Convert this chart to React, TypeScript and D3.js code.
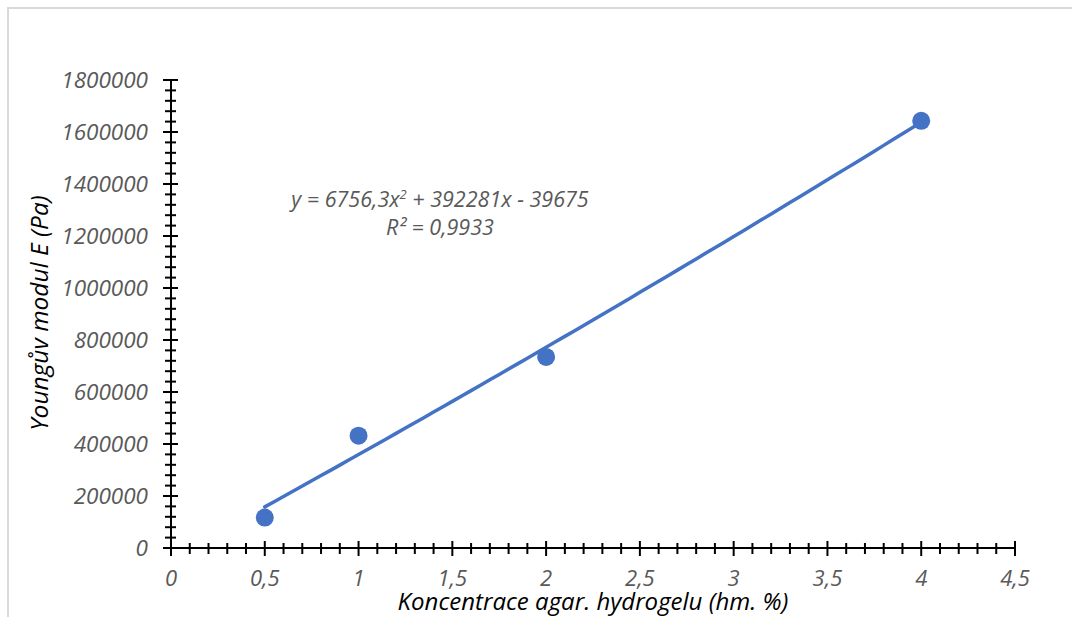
import React from "react";
import * as d3 from "d3";

// Agar hydrogel concentration (wt. %) vs. Young's modulus (Pa)
const concentrations = [0.5, 1, 2, 4];
const modulus = [117000, 432000, 735000, 1643000];

// Quadratic trendline coefficients
const trendA = 6756.3;
const trendB = 392281;
const trendC = -39675;
const equationText = "y = 6756,3x";
const equationRest = " + 392281x - 39675";
const rSquaredText = "R² = 0,9933";

const xTicks = [0, 0.5, 1, 1.5, 2, 2.5, 3, 3.5, 4, 4.5];
const yTicks = [0, 200000, 400000, 600000, 800000, 1000000, 1200000, 1400000, 1600000, 1800000];

const xTitle = "Koncentrace agar. hydrogelu (hm. %)";
const yTitle = "Youngův modul E (Pa)";

const W = 1072;
const H = 617;
const FONT = "'Open Sans', sans-serif";
const BLUE = "#4472C4";
const GRAY = "#595959";

export default function App() {
  const x = d3.scaleLinear().domain([0, 4.5]).range([171, 1015]);
  const y = d3.scaleLinear().domain([0, 1800000]).range([548, 80]);

  const xMinor = d3.range(0, 45.5, 1).map((v) => v / 10).filter((v) => Math.round(v * 10) % 5 !== 0);
  const yMinor = d3.range(0, 1800001, 40000).filter((v) => v % 200000 !== 0);

  const trendX = d3.range(0.5, 4.0001, 0.05);
  const trendLine = d3
    .line<number>()
    .x((d) => x(d))
    .y((d) => y(trendA * d * d + trendB * d + trendC));

  const fmtX = (v: number) => String(v).replace(".", ",");

  return (
    <svg
      width={W}
      height={H}
      style={{ position: "absolute", left: 0, top: 0, background: "#fff" }}
      fontFamily={FONT}
    >
      {/* chart frame */}
      <path d={`M8,${H + 2} L8,8 L${W + 2},8`} fill="none" stroke="#d9d9d9" strokeWidth={2} />

      {/* y axis */}
      <line x1={x(0)} x2={x(0)} y1={y(0)} y2={y(1800000)} stroke="#000" strokeWidth={2} />
      {yTicks.map((t) => (
        <line key={"yM" + t} x1={x(0) - 8} x2={x(0) + 7} y1={y(t)} y2={y(t)} stroke="#000" strokeWidth={2} />
      ))}
      {yMinor.map((t) => (
        <line key={"ym" + t} x1={x(0) - 6} x2={x(0) + 5} y1={y(t)} y2={y(t)} stroke="#000" strokeWidth={2} />
      ))}
      {yTicks.map((t) => (
        <text
          key={"yl" + t}
          x={148}
          y={y(t)}
          dy="0.35em"
          textAnchor="end"
          fontSize={22.5}
          fontStyle="italic"
          fill={GRAY}
        >
          {t}
        </text>
      ))}

      {/* x axis */}
      <line x1={x(0)} x2={x(4.5)} y1={y(0)} y2={y(0)} stroke="#000" strokeWidth={2} />
      {xTicks.map((t) => (
        <line key={"xM" + t} x1={x(t)} x2={x(t)} y1={y(0) - 7} y2={y(0) + 8} stroke="#000" strokeWidth={2} />
      ))}
      {xMinor.map((t) => (
        <line key={"xm" + t} x1={x(t)} x2={x(t)} y1={y(0) - 5} y2={y(0) + 6} stroke="#000" strokeWidth={2} />
      ))}
      {xTicks.map((t) => (
        <text
          key={"xl" + t}
          x={x(t)}
          y={586}
          textAnchor="middle"
          fontSize={22}
          fontStyle="italic"
          fill={GRAY}
        >
          {fmtX(t)}
        </text>
      ))}

      {/* axis titles */}
      <text
        x={(x(0) + x(4.5)) / 2}
        y={610}
        textAnchor="middle"
        fontSize={24}
        fontStyle="italic"
        fill="#000"
      >
        {xTitle}
      </text>
      <text
        transform={`translate(48,313) rotate(-90)`}
        textAnchor="middle"
        fontSize={24.5}
        fontStyle="italic"
        fill="#000"
      >
        {yTitle}
      </text>

      {/* trendline */}
      <path d={trendLine(trendX) ?? ""} fill="none" stroke={BLUE} strokeWidth={3.5} strokeLinecap="round" />

      {/* data points */}
      {concentrations.map((c, i) => (
        <circle key={"p" + i} cx={x(c)} cy={y(modulus[i])} r={9} fill={BLUE} />
      ))}

      {/* trendline equation */}
      <text x={440} y={207} textAnchor="middle" fontSize={21.5} fontStyle="italic" fill={GRAY}>
        {equationText}
        <tspan dy={-8} fontSize={13}>2</tspan>
        <tspan dy={8}>{equationRest}</tspan>
      </text>
      <text x={440} y={235} textAnchor="middle" fontSize={21.5} fontStyle="italic" fill={GRAY}>
        {rSquaredText}
      </text>
    </svg>
  );
}
